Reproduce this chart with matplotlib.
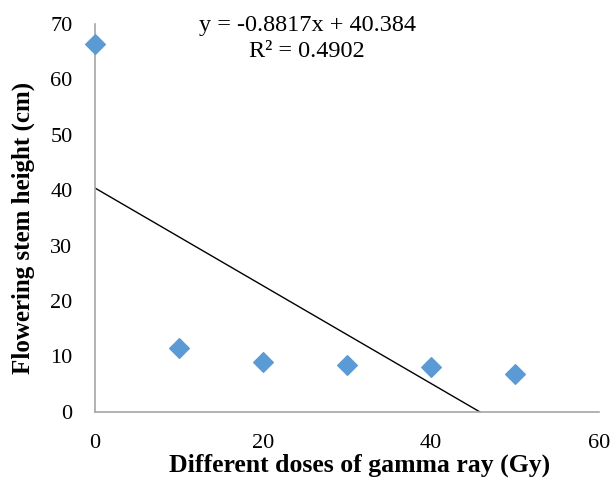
import numpy as np
import matplotlib
matplotlib.use('Agg')
import matplotlib.pyplot as plt

# gamma dose (Gy) vs flowering stem height (cm)
dose = [0, 10, 20, 30, 40, 50]
height = [66.4, 11.5, 8.9, 8.5, 8.0, 6.8]
eq_text = 'y = -0.8817x + 40.384'
r2_text = 'R² = 0.4902'

plt.rcParams['font.family'] = ['Liberation Serif', 'DejaVu Serif']

fig = plt.figure(figsize=(6.13, 4.80), dpi=100)
ax = fig.add_axes([0.1545, 0.1423, 0.8225, 0.8077])

ax.scatter(dose, height, marker='D', s=100, color='#5B9BD5', zorder=3, clip_on=False)

# linear trendline
k, b = np.polyfit(dose, height, 1)
xs = np.array([min(dose), max(dose)])
ax.plot(xs, k * xs + b, color='black', linewidth=1)

ax.set_xlim(0, 60)
ax.set_ylim(0, 70)
ax.set_xticks([0, 20, 40, 60])
ax.set_yticks(range(0, 71, 10))
ax.tick_params(length=0, labelsize=16)
ax.tick_params(axis='y', pad=16)
ax.tick_params(axis='x', pad=16)
for s in ['top', 'right']:
    ax.spines[s].set_visible(False)
for s in ['left', 'bottom']:
    ax.spines[s].set_color('#A6A6A6')
    ax.spines[s].set_linewidth(1.2)

ax.set_xlabel('Different doses of gamma ray (Gy)', fontsize=18.5, fontweight='bold')
ax.set_ylabel('Flowering stem height (cm)', fontsize=18, fontweight='bold')
ax.xaxis.set_label_coords(0.525, -0.109)
ax.yaxis.set_label_coords(-0.118, 0.474)

ax.text(25.3, 67.4, eq_text + '\n' + r2_text, fontsize=17.5, ha='center', va='center',
        linespacing=1.3)

fig.savefig('out.png', dpi=100)
